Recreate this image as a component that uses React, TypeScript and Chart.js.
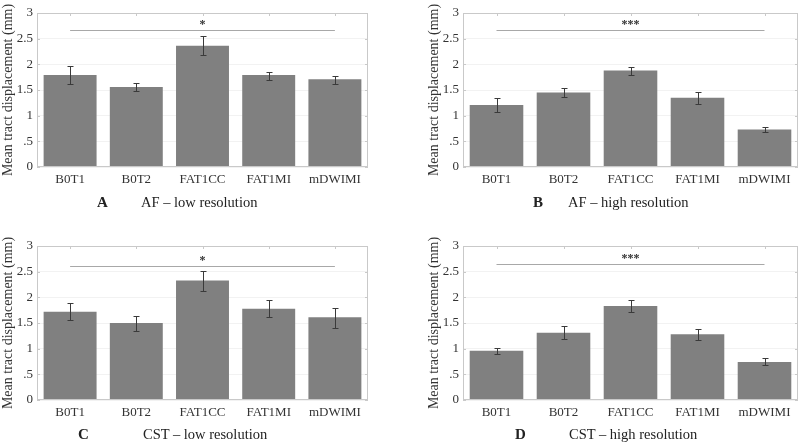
import React, { useEffect, useRef } from "react";
import { Chart, registerables } from "chart.js";

Chart.register(...registerables);

const categories = ["B0T1", "B0T2", "FAT1CC", "FAT1MI", "mDWIMI"];
const yTickValues = [0, 0.5, 1, 1.5, 2, 2.5, 3];
const yTickLabels = ["0", ".5", "1", "1.5", "2", "2.5", "3"];

// A: AF – low resolution
const afLowMean = [1.79, 1.56, 2.36, 1.79, 1.71];
const afLowLower = [1.62, 1.48, 2.18, 1.7, 1.62];
const afLowUpper = [1.96, 1.63, 2.55, 1.86, 1.78];
// B: AF – high resolution
const afHighMean = [1.21, 1.45, 1.88, 1.35, 0.73];
const afHighLower = [1.07, 1.36, 1.8, 1.23, 0.69];
const afHighUpper = [1.34, 1.53, 1.95, 1.46, 0.77];
// C: CST – low resolution
const cstLowMean = [1.72, 1.5, 2.33, 1.78, 1.61];
const cstLowLower = [1.56, 1.35, 2.13, 1.61, 1.41];
const cstLowUpper = [1.89, 1.63, 2.52, 1.94, 1.8];
// D: CST – high resolution
const cstHighMean = [0.96, 1.31, 1.83, 1.28, 0.74];
const cstHighLower = [0.9, 1.18, 1.72, 1.17, 0.68];
const cstHighUpper = [1.01, 1.44, 1.94, 1.39, 0.81];

const sigLevels = [2.66, 2.66, 2.62, 2.65];
const sigLabels = ["*", "***", "*", "***"];
const panelLetters = ["A", "B", "C", "D"];
const panelCaptions = [
  "AF – low resolution",
  "AF – high resolution",
  "CST – low resolution",
  "CST – high resolution",
];

const FONT = "'Liberation Serif', 'Times New Roman', Times, serif";

type Panel = {
  mean: number[];
  lower: number[];
  upper: number[];
  sig: number;
  sigLabel: string;
  letter: string;
  caption: string;
  left: number;
  top: number;
  padLeft: number;
  padRight: number;
  padTop: number;
  xHeight: number;
  letterX: number;
  textX: number;
  captionY: number;
};

const panels: Panel[] = [
  {
    mean: afLowMean, lower: afLowLower, upper: afLowUpper,
    sig: sigLevels[0], sigLabel: sigLabels[0], letter: panelLetters[0], caption: panelCaptions[0],
    left: 0, top: 0, padLeft: 0, padRight: 32, padTop: 13, xHeight: 55,
    letterX: 97, textX: 141, captionY: 202,
  },
  {
    mean: afHighMean, lower: afHighLower, upper: afHighUpper,
    sig: sigLevels[1], sigLabel: sigLabels[1], letter: panelLetters[1], caption: panelCaptions[1],
    left: 400, top: 0, padLeft: 26, padRight: 2, padTop: 13, xHeight: 55,
    letterX: 533, textX: 568, captionY: 202,
  },
  {
    mean: cstLowMean, lower: cstLowLower, upper: cstLowUpper,
    sig: sigLevels[2], sigLabel: sigLabels[2], letter: panelLetters[2], caption: panelCaptions[2],
    left: 0, top: 222, padLeft: 0, padRight: 32, padTop: 24, xHeight: 44,
    letterX: 78, textX: 143, captionY: 434,
  },
  {
    mean: cstHighMean, lower: cstHighLower, upper: cstHighUpper,
    sig: sigLevels[3], sigLabel: sigLabels[3], letter: panelLetters[3], caption: panelCaptions[3],
    left: 400, top: 222, padLeft: 26, padRight: 2, padTop: 24, xHeight: 44,
    letterX: 515, textX: 569, captionY: 434,
  },
];

function makeDecor(p: Panel) {
  return {
    id: "decor",
    afterDatasetsDraw(chart: any) {
      const { ctx, chartArea: a, scales } = chart;
      const x = scales.x;
      const y = scales.y;
      ctx.save();
      // box
      ctx.strokeStyle = "#c9c9c9";
      ctx.lineWidth = 1;
      ctx.strokeRect(Math.round(a.left) + 0.5, Math.round(a.top) + 0.5, Math.round(a.width) - 1, Math.round(a.height) - 1);
      // inner ticks
      ctx.beginPath();
      categories.forEach((_, i) => {
        const cx = Math.round(x.getPixelForValue(i)) + 0.5;
        ctx.moveTo(cx, a.top);
        ctx.lineTo(cx, a.top + 3);
      });
      yTickValues.forEach((v) => {
        const py = Math.round(y.getPixelForValue(v)) + 0.5;
        ctx.moveTo(a.right, py);
        ctx.lineTo(a.right - 3, py);
        ctx.moveTo(a.left, py);
        ctx.lineTo(a.left + 3, py);
      });
      ctx.stroke();
      // error bars
      ctx.strokeStyle = "#3a3a3a";
      ctx.lineWidth = 1;
      ctx.beginPath();
      p.mean.forEach((_, i) => {
        const cx = Math.round(x.getPixelForValue(i)) + 0.5;
        const y1 = Math.round(y.getPixelForValue(p.lower[i])) + 0.5;
        const y2 = Math.round(y.getPixelForValue(p.upper[i])) + 0.5;
        ctx.moveTo(cx, y1);
        ctx.lineTo(cx, y2);
        ctx.moveTo(cx - 3, y1);
        ctx.lineTo(cx + 3, y1);
        ctx.moveTo(cx - 3, y2);
        ctx.lineTo(cx + 3, y2);
      });
      ctx.stroke();
      // significance line
      const sx1 = x.getPixelForValue(0);
      const sx2 = x.getPixelForValue(categories.length - 1);
      const sy = Math.round(y.getPixelForValue(p.sig)) + 0.5;
      ctx.strokeStyle = "#a8a8a8";
      ctx.beginPath();
      ctx.moveTo(sx1, sy);
      ctx.lineTo(sx2, sy);
      ctx.stroke();
      ctx.fillStyle = "#333";
      ctx.font = `bold 12px ${FONT}`;
      ctx.textAlign = "center";
      ctx.textBaseline = "middle";
      ctx.fillText(p.sigLabel, (sx1 + sx2) / 2, sy - 6);
      ctx.restore();
    },
  };
}

function BarPanel({ p }: { p: Panel }) {
  const ref = useRef<HTMLCanvasElement>(null);
  useEffect(() => {
    if (!ref.current) return;
    const chart = new Chart(ref.current, {
      type: "bar",
      data: {
        labels: categories,
        datasets: [
          {
            data: p.mean,
            backgroundColor: "#808080",
            borderWidth: 0,
            barPercentage: 0.8,
            categoryPercentage: 1,
          },
        ],
      },
      options: {
        animation: false,
        responsive: false,
        maintainAspectRatio: false,
        devicePixelRatio: 1,
        layout: { padding: { left: p.padLeft, right: p.padRight, top: p.padTop, bottom: 0 } },
        plugins: { legend: { display: false }, tooltip: { enabled: false } },
        scales: {
          x: {
            grid: { display: false, drawTicks: false },
            border: { display: false },
            ticks: { color: "#333", font: { family: FONT, size: 13 }, padding: 5, maxRotation: 0 },
            afterFit: (s: any) => {
              s.height = p.xHeight;
            },
          },
          y: {
            min: 0,
            max: 3,
            afterBuildTicks: (s: any) => {
              s.ticks = yTickValues.map((v) => ({ value: v }));
            },
            grid: { color: "rgba(0,0,0,0.05)", drawTicks: false },
            border: { display: false },
            ticks: {
              color: "#333",
              font: { family: FONT, size: 13 },
              padding: 4,
              callback: (v: any) => {
                const i = yTickValues.indexOf(Number(v));
                return i >= 0 ? yTickLabels[i] : "";
              },
            },
            title: {
              display: true,
              text: "Mean tract displacement (mm)",
              color: "#333",
              font: { family: FONT, size: 14 },
              padding: 0,
            },
            afterFit: (s: any) => {
              s.width = 37;
            },
          },
        },
      },
      plugins: [makeDecor(p)],
    } as any);
    return () => chart.destroy();
  }, [p]);
  return (
    <>
      <canvas
        ref={ref}
        width={400}
        height={222}
        style={{ position: "absolute", left: p.left, top: p.top, width: 400, height: 222 }}
      />
      <div
        style={{
          position: "absolute",
          left: p.letterX,
          top: p.captionY - 9,
          fontFamily: FONT,
          fontWeight: "bold",
          fontSize: 15,
          lineHeight: "18px",
          color: "#222",
        }}
      >
        {p.letter}
      </div>
      <div
        style={{
          position: "absolute",
          left: p.textX,
          top: p.captionY - 9,
          fontFamily: FONT,
          fontSize: 14.5,
          lineHeight: "18px",
          color: "#222",
          whiteSpace: "nowrap",
        }}
      >
        {p.caption}
      </div>
    </>
  );
}

export default function App() {
  return (
    <div
      style={{
        position: "fixed",
        left: 0,
        top: 0,
        width: 800,
        height: 444,
        background: "#fff",
        overflow: "hidden",
      }}
    >
      {panels.map((p, i) => (
        <BarPanel key={i} p={p} />
      ))}
    </div>
  );
}
